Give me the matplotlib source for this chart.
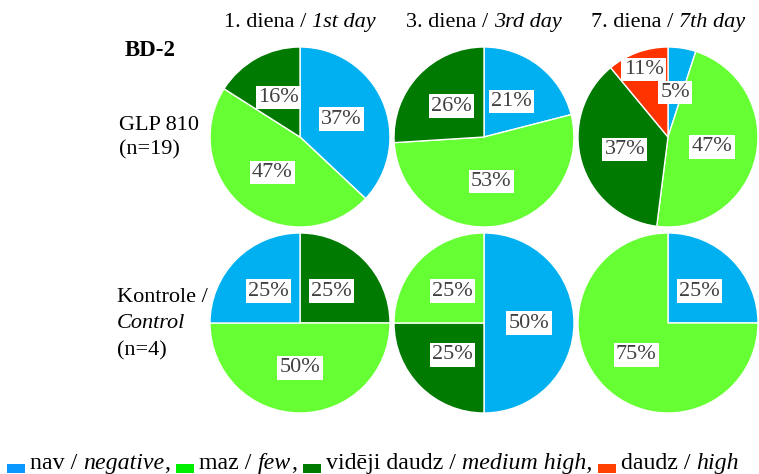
import numpy as np
import matplotlib
matplotlib.use('Agg')
import matplotlib.pyplot as plt
from matplotlib.patches import Rectangle
from matplotlib.font_manager import FontProperties

plt.rcParams['font.family'] = 'Liberation Serif'

# categories and colours
categories = ['nav', 'maz', 'vidēji daudz', 'daudz']
categories_en = ['negative', 'few', 'medium high', 'high']
colors = ['#00B0F0', '#66FF33', '#007A00', '#FF3300']
legend_colors = ['#0A98FF', '#00EE00', '#007A00', '#FF4000']

days = ['1. diena', '3. diena', '7. diena']
days_en = ['1st day', '3rd day', '7th day']

# slices per pie, clockwise from 12 o'clock (category index, percent)
glp_order = [[0, 1, 2], [0, 1, 2], [0, 1, 2, 3]]
glp_values = [[37, 47, 16], [21, 53, 26], [5, 47, 37, 11]]
ctrl_order = [[2, 1, 0], [0, 2, 1], [0, 1]]
ctrl_values = [[25, 50, 25], [50, 25, 25], [25, 75]]

W, H = 759, 474
fig = plt.figure(figsize=(W / 100, H / 100), dpi=100)
renderer = fig.canvas.get_renderer()

R = 90
col_x = [300, 484, 668]
row_y = [137, 323]
FS = 16


def font(size, italic=False, bold=False):
    return FontProperties(family='Liberation Serif', size=size,
                          style='italic' if italic else 'normal',
                          weight='bold' if bold else 'normal')


def advance(s, prop):
    # bars on both sides so that spaces at the ends are counted
    w1 = renderer.get_text_width_height_descent('|' + s + '|', prop, ismath=False)[0]
    w0 = renderer.get_text_width_height_descent('||', prop, ismath=False)[0]
    return w1 - w0


def draw_runs(runs, x, y, size, center=False):
    # runs: list of (text, italic); x, y in pixels from top-left, y is baseline
    props = [font(size, it) for _, it in runs]
    widths = [advance(s, p) for (s, _), p in zip(runs, props)]
    if center:
        x -= sum(widths) / 2
    for (s, _), p, w in zip(runs, props, widths):
        fig.text(x / W, 1 - y / H, s, fontproperties=p, ha='left', va='baseline')
        x += w
    return x


def pie_at(cx, cy, order, values):
    half = R + 2
    ax = fig.add_axes([(cx - half) / W, 1 - (cy + half) / H, 2 * half / W, 2 * half / H])
    wedges, _ = ax.pie(values, colors=[colors[i] for i in order], startangle=90,
                       counterclock=False, radius=1,
                       wedgeprops=dict(edgecolor='white', linewidth=1))
    lim = half / R
    ax.set_xlim(-lim, lim)
    ax.set_ylim(-lim, lim)
    ax.set_aspect('equal')
    ax.axis('off')
    for w, cat, v in zip(wedges, order, values):
        th = np.deg2rad((w.theta1 + w.theta2) / 2)
        d = 0.8 if cat == 3 else 0.5
        ax.text(d * np.cos(th), d * np.sin(th), f'{v}%', ha='center', va='center',
                fontsize=FS, color='#404040',
                bbox=dict(boxstyle='square,pad=0.1', facecolor='white', edgecolor='none'))


for j in range(3):
    pie_at(col_x[j], row_y[0], glp_order[j], glp_values[j])
    pie_at(col_x[j], row_y[1], ctrl_order[j], ctrl_values[j])
    draw_runs([(days[j] + ' / ', False), (days_en[j], True)], col_x[j], 27, FS, center=True)

# row labels
fig.text(150 / W, 1 - 51 / H, 'BD-2', ha='center', va='center', fontsize=16.5, fontweight='bold')
fig.text(119 / W, 1 - 125 / H, 'GLP 810', ha='left', va='center', fontsize=FS)
fig.text(119 / W, 1 - 150 / H, '(n=19)', ha='left', va='center', fontsize=FS)
fig.text(117 / W, 1 - 298 / H, 'Kontrole /', ha='left', va='center', fontsize=FS)
fig.text(117 / W, 1 - 324 / H, 'Control', ha='left', va='center', fontsize=FS, style='italic')
fig.text(117 / W, 1 - 351 / H, '(n=4)', ha='left', va='center', fontsize=FS)

# legend row: coloured square, then "lv / en" with the English part in italics
LFS = 17.2
x = 7
base = 469
for k, (lv, en) in enumerate(zip(categories, categories_en)):
    fig.add_artist(Rectangle((x / W, 1 - 473 / H), 18 / W, 9 / H, transform=fig.transFigure,
                             facecolor=legend_colors[k], edgecolor='none'))
    x += 23
    if k == 2:
        runs = [(lv + ' / ', False), (en + ',', True)]
    elif k < len(categories) - 1:
        runs = [(lv + ' / ', False), (en, True), (',', False)]
    else:
        runs = [(lv + ' / ', False), (en, True)]
    x = draw_runs(runs, x, base, LFS) + 6

fig.savefig('out.png', dpi=100)
